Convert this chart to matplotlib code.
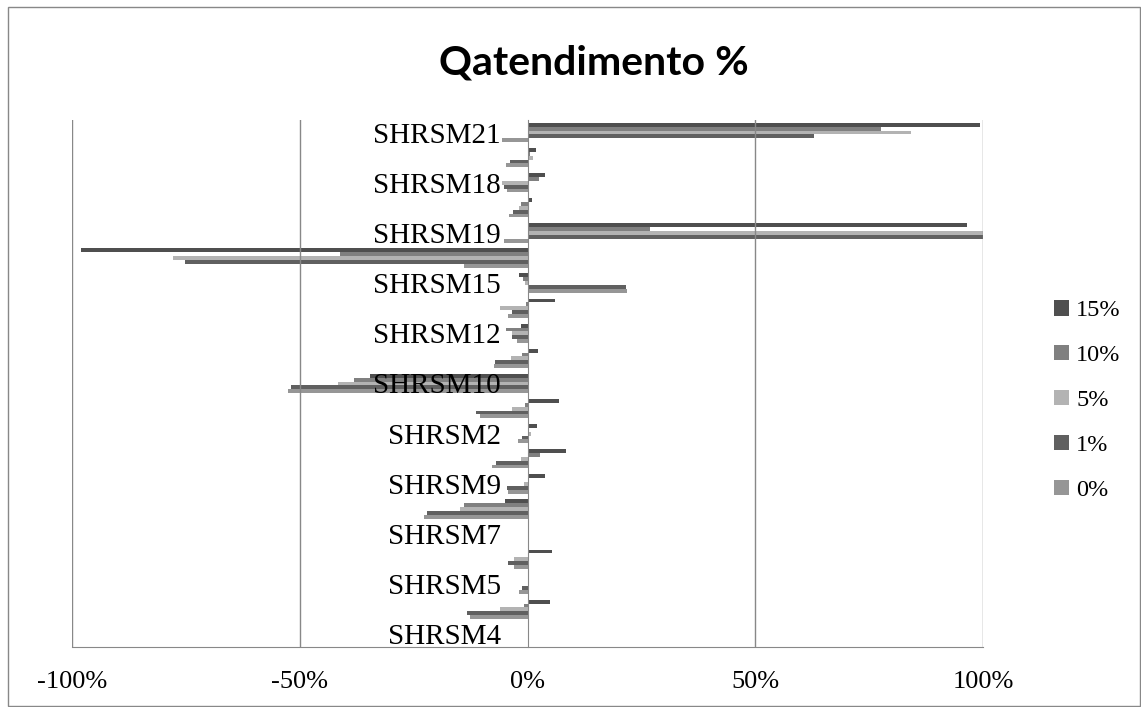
import numpy as np
import matplotlib

matplotlib.use("Agg")
import matplotlib.pyplot as plt
from matplotlib.patches import Patch

plt.rcParams["axes.unicode_minus"] = False

# categories listed top to bottom; only every other one gets a label
categories = [
    "SHRSM21", "SHRSM20", "SHRSM18", "SHRSM17", "SHRSM19", "SHRSM16",
    "SHRSM15", "SHRSM14", "SHRSM12", "SHRSM13", "SHRSM10", "SHRSM11",
    "SHRSM2", "SHRSM3", "SHRSM9", "SHRSM8", "SHRSM7", "SHRSM6",
    "SHRSM5", "SHRSM1", "SHRSM4",
]

# values in percent
q15 = [99.3, 1.8, 3.8, 0.9, 96.5, -98.1, -1.9, 6.0, -1.5, 2.3, -34.5,
       6.9, 2.1, 8.5, 3.8, -5.0, 0.0, 5.4, 0.4, 4.9, 0.0]
q10 = [77.7, 0.5, 2.6, -1.4, 26.9, -41.2, -1.0, -0.3, -4.8, -1.2, -38.0,
       -0.5, 0.4, 2.7, 0.0, -13.9, 0.0, 0.0, 0.0, -0.8, 0.0]
q5 = [84.1, 1.2, -5.5, -1.8, 100.0, -77.9, -0.6, -6.1, -3.5, -3.6, -41.5,
      -3.5, 0.8, -1.5, -0.7, -14.9, 0.0, -2.9, 0.0, -6.1, 0.0]
q1 = [62.9, -3.9, -5.1, -3.2, 100.0, -75.3, 21.6, -3.4, -3.3, -7.1, -52.0,
      -11.3, -1.2, -7.0, -4.5, -22.0, 0.0, -4.3, -1.1, -13.2, 0.0]
q0 = [-5.5, -4.7, -4.6, -4.1, -5.2, -14.0, 21.9, -4.3, -2.3, -7.4, -52.6,
      -10.5, -2.1, -7.9, -4.2, -22.7, 0.0, -2.9, -1.8, -12.6, 0.0]

series_names = ["15%", "10%", "5%", "1%", "0%"]
series_values = [q15, q10, q5, q1, q0]
series_colors = ["#4f4f4f", "#808080", "#b3b3b3", "#606060", "#969696"]

xtick_values = [-1.0, -0.5, 0.0, 0.5, 1.0]
xtick_labels = ["-100%", "-50%", "0%", "50%", "100%"]

serif = ["Liberation Serif", "DejaVu Serif"]

fig = plt.figure(figsize=(11.41, 7.07), dpi=100)
ax = fig.add_axes([72 / 1141, 1 - 647 / 707, (983 - 72) / 1141, (647 - 120) / 707])

n = len(categories)
ypos = np.arange(n)[::-1]
h = 1 / 6.5  # gap width 150%
offsets = [2 * h, h, 0, -h, -2 * h]

for name, vals, col, off in zip(series_names, series_values, series_colors, offsets):
    ax.barh(ypos + off, np.array(vals) / 100.0, height=h, color=col,
            label=name, zorder=2)

ax.set_xlim(-1, 1)
ax.set_ylim(-0.5, n - 0.5)

for xv in xtick_values:
    if xv != 0:
        ax.axvline(xv, color="#888888", lw=1.0, zorder=3)

for s in ["top", "right"]:
    ax.spines[s].set_visible(False)
ax.spines["left"].set_position(("data", 0))
ax.spines["left"].set_color("#888888")
ax.spines["left"].set_zorder(4)
ax.spines["bottom"].set_color("#888888")

# category labels sit on top of the bars
ax.yaxis.set_zorder(5)
ax.set_yticks(ypos[::2])
ax.set_yticklabels(categories[::2], fontsize=21, family=serif)
ax.tick_params(axis="y", length=0, pad=19)

ax.set_xticks(xtick_values)
ax.set_xticklabels(xtick_labels, fontsize=19, family=serif)
ax.tick_params(axis="x", length=0, pad=17)

fig.text(0.5206, 0.911, "Qatendimento %", ha="center", va="center",
         fontsize=29.5, fontweight="bold", family=["Lato", "DejaVu Sans"])

handles = [Patch(facecolor=c, edgecolor="none") for c in series_colors]
fig.legend(handles, series_names, loc="center left",
           bbox_to_anchor=(0.924, 0.4335), frameon=False,
           prop={"family": serif, "size": 17.5}, handlelength=0.6,
           handleheight=0.6, handletextpad=0.3, labelspacing=0.97,
           borderpad=0, borderaxespad=0)

# chart area border
fig.add_artist(plt.Rectangle((8 / 1141, 1 / 707), 1 - 9 / 1141, 1 - 8 / 707,
                             transform=fig.transFigure, fill=False,
                             edgecolor="#888888", lw=1.0))

fig.savefig("out.png", dpi=100)
